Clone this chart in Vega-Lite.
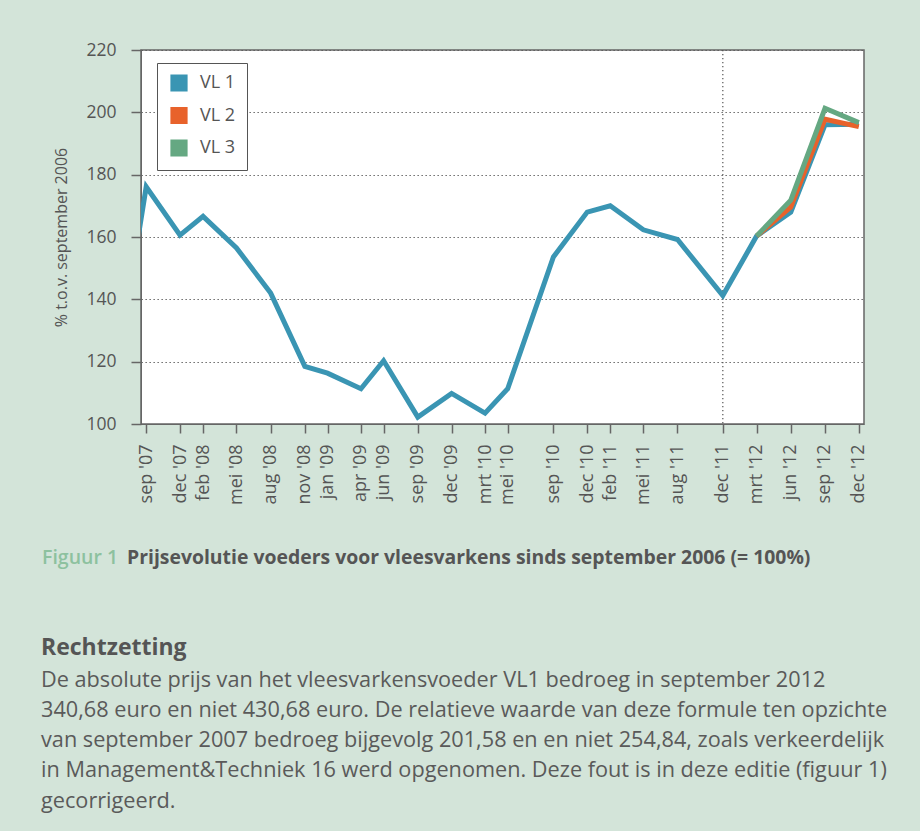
{
  "$schema": "https://vega.github.io/schema/vega-lite/v6.json",
  "width": 723,
  "height": 374,
  "autosize": {"type": "none"},
  "padding": {"left": 141, "top": 50, "right": 56, "bottom": 407},
  "background": "#d3e4d9",
  "config": {
    "font": "Open Sans",
    "view": {"stroke": "#666666", "strokeWidth": 1.5, "fill": "#ffffff"},
    "axis": {"labelFont": "Open Sans", "titleFont": "Open Sans", "labelColor": "#555555", "titleColor": "#555555", "tickColor": "#666666", "domainColor": "#666666"}
  },
  "title": {
    "text": "Rechtzetting",
    "subtitle": [
      "De absolute prijs van het vleesvarkensvoeder VL1 bedroeg in september 2012",
      "340,68 euro en niet 430,68 euro. De relatieve waarde van deze formule ten opzichte",
      "van september 2007 bedroeg bijgevolg 201,58 en en niet 254,84, zoals verkeerdelijk",
      "in Management&Techniek 16 werd opgenomen. Deze fout is in deze editie (figuur 1)",
      "gecorrigeerd."
    ],
    "orient": "bottom",
    "anchor": "start",
    "frame": "group",
    "dx": -100,
    "offset": 70,
    "font": "Open Sans",
    "fontSize": 23,
    "fontWeight": "bold",
    "color": "#555555",
    "subtitleFont": "Open Sans",
    "subtitleFontSize": 21.7,
    "subtitleColor": "#5a5a5a",
    "subtitleLineHeight": 30.3,
    "subtitlePadding": 10
  },
  "datasets": {
    "prices": [
      {"date": "2007-08-01T00:00:00", "serie": "VL 1", "value": 153},
      {"date": "2007-09-01T00:00:00", "serie": "VL 1", "value": 176.1},
      {"date": "2007-12-01T00:00:00", "serie": "VL 1", "value": 160.6},
      {"date": "2008-02-01T00:00:00", "serie": "VL 1", "value": 166.6},
      {"date": "2008-05-01T00:00:00", "serie": "VL 1", "value": 156.5},
      {"date": "2008-08-01T00:00:00", "serie": "VL 1", "value": 142},
      {"date": "2008-11-01T00:00:00", "serie": "VL 1", "value": 118.5},
      {"date": "2009-01-01T00:00:00", "serie": "VL 1", "value": 116.3},
      {"date": "2009-04-01T00:00:00", "serie": "VL 1", "value": 111.3},
      {"date": "2009-06-01T00:00:00", "serie": "VL 1", "value": 120.3},
      {"date": "2009-09-01T00:00:00", "serie": "VL 1", "value": 102.2},
      {"date": "2009-12-01T00:00:00", "serie": "VL 1", "value": 109.8},
      {"date": "2010-03-01T00:00:00", "serie": "VL 1", "value": 103.5},
      {"date": "2010-05-01T00:00:00", "serie": "VL 1", "value": 111.3},
      {"date": "2010-09-01T00:00:00", "serie": "VL 1", "value": 153.6},
      {"date": "2010-12-01T00:00:00", "serie": "VL 1", "value": 168},
      {"date": "2011-02-01T00:00:00", "serie": "VL 1", "value": 170},
      {"date": "2011-05-01T00:00:00", "serie": "VL 1", "value": 162.3},
      {"date": "2011-08-01T00:00:00", "serie": "VL 1", "value": 159.2},
      {"date": "2011-12-01T00:00:00", "serie": "VL 1", "value": 141.2},
      {"date": "2012-03-01T00:00:00", "serie": "VL 1", "value": 160.3},
      {"date": "2012-06-01T00:00:00", "serie": "VL 1", "value": 168},
      {"date": "2012-09-01T00:00:00", "serie": "VL 1", "value": 196},
      {"date": "2012-12-01T00:00:00", "serie": "VL 1", "value": 196.2},
      {"date": "2012-03-01T00:00:00", "serie": "VL 2", "value": 160.3},
      {"date": "2012-06-01T00:00:00", "serie": "VL 2", "value": 169.6},
      {"date": "2012-09-01T00:00:00", "serie": "VL 2", "value": 197.8},
      {"date": "2012-12-01T00:00:00", "serie": "VL 2", "value": 195.4},
      {"date": "2012-03-01T00:00:00", "serie": "VL 3", "value": 160.3},
      {"date": "2012-06-01T00:00:00", "serie": "VL 3", "value": 171.8},
      {"date": "2012-09-01T00:00:00", "serie": "VL 3", "value": 201.3},
      {"date": "2012-12-01T00:00:00", "serie": "VL 3", "value": 196.7}
    ],
    "marker": [{"date": "2011-12-01T00:00:00"}]
  },
  "layer": [
    {
      "data": {"name": "marker"},
      "mark": {"type": "rule", "color": "#555555", "strokeDash": [1.2, 2.8], "strokeWidth": 1.2},
      "encoding": {
        "x": {
          "field": "date",
          "type": "temporal",
          "scale": {"domain": [{"year": 2007, "month": 8, "date": 18}, {"year": 2012, "month": 12, "date": 15}]},
          "axis": {
            "orient": "bottom",
            "labels": false,
            "ticks": false,
            "domain": false,
            "grid": false,
            "title": "Figuur 1",
            "titleX": -99.5,
            "titleY": 139,
            "titleAlign": "left",
            "titleBaseline": "alphabetic",
            "titleFontSize": 19.5,
            "titleFontWeight": 600,
            "titleColor": "#8dc19f"
          }
        }
      }
    },
    {
      "data": {"name": "prices"},
      "mark": {"type": "line", "strokeWidth": 5, "clip": true, "strokeJoin": "miter"},
      "encoding": {
        "x": {
          "field": "date",
          "type": "temporal",
          "scale": {"domain": [{"year": 2007, "month": 8, "date": 18}, {"year": 2012, "month": 12, "date": 15}]},
          "axis": {
            "orient": "bottom",
            "values": [
              {"year": 2007, "month": 9, "date": 1},
              {"year": 2007, "month": 12, "date": 1},
              {"year": 2008, "month": 2, "date": 1},
              {"year": 2008, "month": 5, "date": 1},
              {"year": 2008, "month": 8, "date": 1},
              {"year": 2008, "month": 11, "date": 1},
              {"year": 2009, "month": 1, "date": 1},
              {"year": 2009, "month": 4, "date": 1},
              {"year": 2009, "month": 6, "date": 1},
              {"year": 2009, "month": 9, "date": 1},
              {"year": 2009, "month": 12, "date": 1},
              {"year": 2010, "month": 3, "date": 1},
              {"year": 2010, "month": 5, "date": 1},
              {"year": 2010, "month": 9, "date": 1},
              {"year": 2010, "month": 12, "date": 1},
              {"year": 2011, "month": 2, "date": 1},
              {"year": 2011, "month": 5, "date": 1},
              {"year": 2011, "month": 8, "date": 1},
              {"year": 2011, "month": 12, "date": 1},
              {"year": 2012, "month": 3, "date": 1},
              {"year": 2012, "month": 6, "date": 1},
              {"year": 2012, "month": 9, "date": 1},
              {"year": 2012, "month": 12, "date": 1}
            ],
            "labelExpr": "['jan','feb','mrt','apr','mei','jun','jul','aug','sep','okt','nov','dec'][month(datum.value)] + \" '\" + timeFormat(datum.value, '%y')",
            "labelAngle": 270,
            "labelFontSize": 18,
            "labelPadding": 11,
            "labelOverlap": false,
            "labelFlush": false,
            "labelBound": false,
            "tickSize": 9,
            "tickWidth": 1.5,
            "grid": false,
            "title": "Prijsevolutie voeders voor vleesvarkens sinds september 2006 (= 100%)",
            "titleX": -14.5,
            "titleY": 139,
            "titleAlign": "left",
            "titleBaseline": "alphabetic",
            "titleFontSize": 19.4,
            "titleFontWeight": "bold",
            "titleColor": "#555555"
          }
        },
        "y": {
          "field": "value",
          "type": "quantitative",
          "scale": {"domain": [100, 220], "zero": false, "nice": false},
          "axis": {
            "values": [100, 120, 140, 160, 180, 200, 220],
            "title": "% t.o.v. september 2006",
            "titleX": -75,
            "titleY": 187,
            "titleAngle": 270,
            "titleAlign": "center",
            "titleBaseline": "alphabetic",
            "titleFontSize": 16,
            "titleFontWeight": "normal",
            "labelFontSize": 17.5,
            "labelPadding": 15,
            "tickSize": 10,
            "tickWidth": 1.5,
            "grid": true,
            "gridDash": [1.3, 2.7],
            "gridColor": "#555555",
            "gridWidth": 1.1
          }
        },
        "color": {
          "field": "serie",
          "type": "nominal",
          "scale": {"domain": ["VL 1", "VL 2", "VL 3"], "range": ["#3a95b3", "#e8622b", "#65a882"]},
          "legend": {
            "orient": "none",
            "legendX": 16,
            "legendY": 13,
            "title": null,
            "fillColor": "#ffffff",
            "strokeColor": "#555555",
            "padding": 11,
            "symbolOffset": 2,
            "symbolType": "square",
            "symbolSize": 256,
            "rowPadding": 10.5,
            "labelFont": "Open Sans",
            "labelFontSize": 18,
            "labelColor": "#555555",
            "labelOffset": 12,
            "encode": {
              "symbols": {
                "update": {
                  "fill": {"scale": "color", "field": "value"},
                  "stroke": {"value": "#555555"},
                  "strokeWidth": {"value": 1.2},
                  "opacity": {"value": 1}
                }
              }
            }
          }
        }
      }
    }
  ],
  "resolve": {"axis": {"x": "independent"}}
}
